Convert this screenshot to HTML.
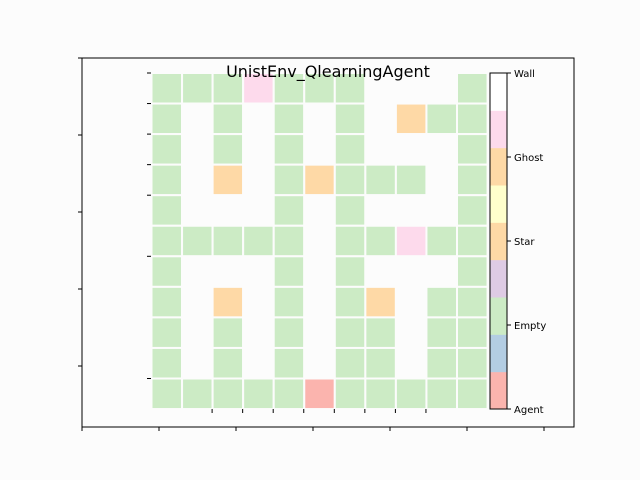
<!DOCTYPE html>
<html><head><meta charset="utf-8"><style>
body{margin:0;background:#fcfcfc;}
svg{display:block;font-family:"DejaVu Sans","Liberation Sans",sans-serif;}
</style></head><body>
<svg id="chart" width="640" height="480">
<rect width="640" height="480" fill="#fcfcfc"/>
<rect x="82" y="58" width="492" height="369" fill="none" stroke="#000" stroke-width="1"/>
<g id="cells"></g>
<g id="ticks"></g>
<g id="cbar"></g>
<text x="328" y="77" font-size="16" text-anchor="middle" fill="#000">UnistEnv_QlearningAgent</text>
</svg>
<script>
const gridRows = [
 "GGGPGGGWWWG",
 "GWGWGWGWOGG",
 "GWGWGWGWWWG",
 "GWOWGOGGGWG",
 "GWWWGWGWWWG",
 "GGGGGWGGPGG",
 "GWWWGWGWWWG",
 "GWOWGWGOWGG",
 "GWGWGWGGWGG",
 "GWGWGWGGWGG",
 "GGGGGRGGGGG"
];
const cellColors = {G:"#ccebc5",W:"#fcfcfc",P:"#fddaec",O:"#fed9a6",R:"#fbb4ae"};
const cbarColors = ["#fbb4ae","#b3cde3","#ccebc5","#decbe4","#fed9a6","#ffffcc","#fed9a6","#fddaec","#ffffff"];
const cbarLabels = ["Agent","Empty","Star","Ghost","Wall"];
const cbarLabelPos = [0,2.25,4.5,6.75,9];
const xTickCount = 7, yTickCount = 5;
const ns="http://www.w3.org/2000/svg";
function mk(t,a,p){const e=document.createElementNS(ns,t);for(const k in a)e.setAttribute(k,a[k]);p.appendChild(e);return e;}
const gx0=151.5, gy0=73, pitch=30.55;
const cx = c=>gx0+c*pitch, cy = r=>gy0+r*pitch;
const cells=document.getElementById('cells');
gridRows.forEach((row,r)=>{[...row].forEach((ch,c)=>{
  const e=mk('rect',{x:cx(c),y:cy(r),width:pitch,height:pitch,fill:cellColors[ch],stroke:"#fcfcfc","stroke-width":2},cells);
  
  
});});
const tk=document.getElementById('ticks');
for(let i=0;i<xTickCount;i++){const x=82+i*77;mk('line',{x1:x,y1:427,x2:x,y2:431,stroke:"#000"},tk);}
for(let i=0;i<yTickCount;i++){const y=58+i*77;mk('line',{x1:78,y1:y,x2:82,y2:y,stroke:"#000"},tk);}
[0,1,2,3,4,6,10].forEach(r=>{const y=cy(r);mk('line',{x1:147,y1:y,x2:151,y2:y,stroke:"#000"},tk);});
for(let c=2;c<=9;c++){const x=cx(c)-0.5;mk('line',{x1:x,y1:409,x2:x,y2:413,stroke:"#000"},tk);}
const cb=document.getElementById('cbar');
const cbx=490, cby=73, cbw=17, cbh=336, seg=cbh/cbarColors.length;
cbarColors.forEach((col,i)=>{
  const e=mk('rect',{x:cbx,y:cby+cbh-(i+1)*seg,width:cbw,height:seg+0.5,fill:col},cb);
  
  
});
mk('rect',{x:cbx,y:cby,width:cbw,height:cbh,fill:"none",stroke:"#000"},cb);
cbarLabels.forEach((l,i)=>{
  const y=cby+cbh-cbarLabelPos[i]/9*cbh;
  mk('line',{x1:cbx+cbw,y1:y,x2:cbx+cbw+4,y2:y,stroke:"#000"},cb);
  const t=mk('text',{x:cbx+cbw+7,y:y+4,"font-size":10,fill:"#000"},cb);
  t.textContent=l;
  
  
});
</script>
</body></html>
